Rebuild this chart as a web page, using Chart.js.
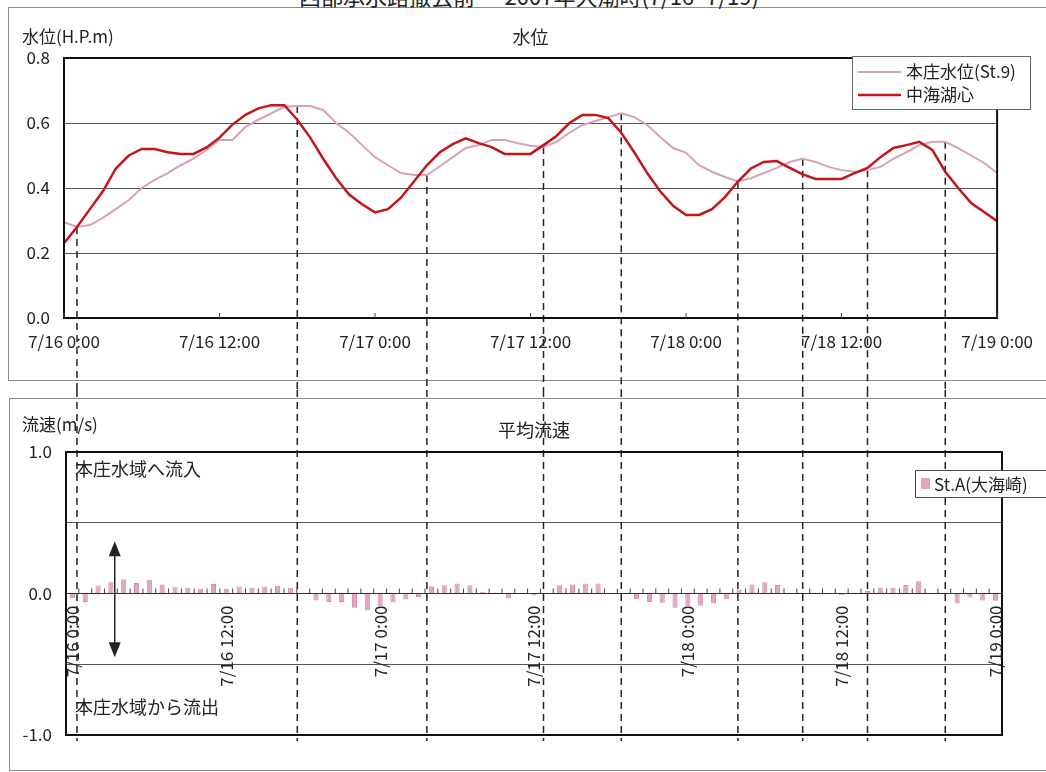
<!DOCTYPE html>
<html>
<head>
<meta charset="utf-8">
<script src="https://cdn.jsdelivr.net/npm/chart.js@4.4.1/dist/chart.umd.min.js"></script>
<style>
  html, body { margin: 0; padding: 0; background: #fff; }
  #page { position: relative; width: 1046px; height: 772px; overflow: hidden; background: #fff; }
  .frame { position: absolute; border: 1px solid #8c8c8c; }
  #f1 { left: 8px; top: 7px; width: 1060px; height: 372px; }
  #f2 { left: 9px; top: 398px; width: 1060px; height: 371px; }
  #head { position: absolute; left: 6px; width: 1046px; top: -21px; text-align: center;
          font: 22px "Noto Sans CJK JP", sans-serif; color: #222; white-space: nowrap; }
  canvas { position: absolute; left: 0; }
  #c1 { top: 0; }
  #c2 { top: 390px; }
</style>
</head>
<body>
<div id="page">
  <div class="frame" id="f1"></div>
  <div class="frame" id="f2"></div>
  <div id="head">西部承水路撤去前 — 2007年大潮時(7/16~7/19)</div>
  <canvas id="c1" width="1046" height="390"></canvas>
  <canvas id="c2" width="1046" height="382"></canvas>
</div>
<script>
// hours from 7/16 0:00
const hours = [0,1,2,3,4,5,6,7,8,9,10,11,12,13,14,15,16,17,18,19,20,21,22,23,24,
  25,26,27,28,29,30,31,32,33,34,35,36,37,38,39,40,41,42,43,44,45,46,47,48,
  49,50,51,52,53,54,55,56,57,58,59,60,61,62,63,64,65,66,67,68,69,70,71,72]
const timeLabels = ['7/16 0:00', '7/16 12:00', '7/17 0:00', '7/17 12:00', '7/18 0:00', '7/18 12:00', '7/19 0:00']

// 本庄水位(St.9)  H.P.m
const honjoLevel = [0.295,0.28,0.286,0.308,0.335,0.363,0.40,0.425,0.446,0.47,0.49,0.517,0.548,
  0.548,0.588,0.61,0.63,0.65,0.652,0.652,0.64,0.60,0.57,0.532,0.495,
  0.47,0.446,0.44,0.44,0.467,0.495,0.523,0.532,0.548,0.548,0.538,0.53,
  0.526,0.542,0.57,0.594,0.606,0.618,0.63,0.618,0.594,0.557,0.523,0.508,
  0.47,0.45,0.434,0.42,0.43,0.446,0.462,0.48,0.49,0.48,0.465,0.455,
  0.45,0.455,0.465,0.49,0.51,0.532,0.542,0.542,0.523,0.50,0.477,0.446]

// 中海湖心  H.P.m
const nakaumiLevel = [0.23,0.28,0.335,0.39,0.46,0.50,0.52,0.52,0.51,0.505,0.505,0.525,0.555,
  0.595,0.625,0.645,0.655,0.655,0.61,0.555,0.49,0.43,0.38,0.35,0.325,
  0.335,0.37,0.42,0.47,0.51,0.535,0.553,0.538,0.526,0.505,0.505,0.505,
  0.532,0.56,0.60,0.625,0.625,0.615,0.57,0.51,0.446,0.39,0.345,0.317,
  0.317,0.335,0.372,0.42,0.46,0.48,0.483,0.462,0.442,0.428,0.428,0.428,
  0.446,0.462,0.495,0.523,0.532,0.542,0.517,0.45,0.40,0.354,0.326,0.298]

// 平均流速 St.A(大海崎)  m/s
const velocityA = [-0.033,-0.06,0.057,0.08,0.10,0.075,0.097,0.064,0.045,0.04,0.033,0.068,0.033,
  0.05,0.04,0.05,0.054,0.04,0.005,-0.05,-0.06,-0.06,-0.1,-0.12,-0.09,
  -0.064,-0.042,-0.024,0.052,0.059,0.07,0.059,0.012,0.007,-0.035,0.003,-0.014,
  0.003,0.059,0.064,0.07,0.07,0.004,0.004,-0.04,-0.06,-0.066,-0.1,-0.094,
  -0.087,-0.07,-0.04,0.028,0.064,0.08,0.06,0.005,0.004,-0.005,-0.005,-0.01,
  0.007,0.02,0.04,0.04,0.06,0.087,0.004,0.004,-0.07,-0.028,-0.05,-0.052]

// 本庄水位の満潮・干潮時刻 (hours)
const markHours = [1, 18, 28, 37, 43, 52, 57, 62, 68]

const FONT = '"Noto Sans CJK JP", sans-serif'
Chart.defaults.font.family = FONT
Chart.defaults.color = '#222'

function dashed(ctx) {
  ctx.strokeStyle = '#222'
  ctx.lineWidth = 1.5
  ctx.setLineDash([7, 5])
}

function frame(ctx, a) {
  ctx.save()
  ctx.strokeStyle = '#111'
  ctx.lineWidth = 2
  ctx.setLineDash([])
  ctx.strokeRect(a.left, a.top, a.right - a.left, a.bottom - a.top)
  ctx.restore()
}

const topDecor = {
  id: 'topDecor',
  beforeDatasetsDraw(chart) {
    const { ctx, scales: { x, y } } = chart
    ctx.save()
    dashed(ctx)
    markHours.forEach(h => {
      const px = x.getPixelForValue(h)
      ctx.beginPath()
      ctx.moveTo(px, y.getPixelForValue(honjoLevel[hours.indexOf(h)]))
      ctx.lineTo(px, chart.height)
      ctx.stroke()
    })
    ctx.restore()
  },
  afterDraw(chart) {
    const { ctx, chartArea: a, scales: { x } } = chart
    frame(ctx, a)
    ctx.save()
    // small inner ticks
    ctx.strokeStyle = '#444'
    ctx.lineWidth = 1
    x.ticks.forEach(t => {
      const px = x.getPixelForValue(t.value)
      ctx.beginPath(); ctx.moveTo(px, a.bottom); ctx.lineTo(px, a.bottom - 5); ctx.stroke()
    })
    ctx.fillStyle = '#222'
    ctx.textBaseline = 'middle'
    ctx.font = '18px ' + FONT
    ctx.textAlign = 'center'
    ctx.fillText('水位', (a.left + a.right) / 2, 37)
    ctx.font = '17px ' + FONT
    ctx.textAlign = 'left'
    ctx.fillText('水位(H.P.m)', 22, 37)

    // legend
    const lx = 852, ly = 56, lw = 178, lh = 53
    ctx.fillStyle = '#fff'
    ctx.fillRect(lx, ly, lw, lh)
    ctx.strokeStyle = '#666'
    ctx.strokeRect(lx + 0.5, ly + 0.5, lw, lh)
    ctx.font = '17px ' + FONT
    chart.data.datasets.forEach((ds, i) => {
      const ry = ly + 16 + i * 23
      ctx.strokeStyle = ds.borderColor
      ctx.lineWidth = ds.borderWidth
      ctx.beginPath(); ctx.moveTo(lx + 6, ry); ctx.lineTo(lx + 49, ry); ctx.stroke()
      ctx.fillStyle = '#222'
      ctx.fillText(ds.label, lx + 54, ry)
    })
    ctx.restore()
  }
}

const topChart = new Chart(document.getElementById('c1'), {
  type: 'line',
  data: {
    datasets: [
      {
        label: '本庄水位(St.9)',
        data: hours.map((h, i) => ({ x: h, y: honjoLevel[i] })),
        borderColor: '#d6a2b8',
        borderWidth: 2,
        pointRadius: 0,
        tension: 0,
        order: 2
      },
      {
        label: '中海湖心',
        data: hours.map((h, i) => ({ x: h, y: nakaumiLevel[i] })),
        borderColor: '#c3161b',
        borderWidth: 2.5,
        pointRadius: 0,
        tension: 0,
        order: 1
      }
    ]
  },
  options: {
    responsive: false,
    animation: false,
    layout: { padding: { top: 58, right: 43, bottom: 32, left: 0 } },
    plugins: { legend: { display: false }, tooltip: { enabled: false } },
    scales: {
      x: {
        type: 'linear', min: 0, max: 72,
        ticks: { stepSize: 12, padding: 13, font: { size: 17 }, maxRotation: 0, callback: v => timeLabels[v / 12] },
        grid: { display: false, drawTicks: false },
        border: { display: false },
        afterFit: s => { s.height = 40 }
      },
      y: {
        min: 0, max: 0.8,
        ticks: { stepSize: 0.2, padding: 14, font: { size: 17 }, callback: v => v.toFixed(1) },
        grid: { color: '#555', drawTicks: false },
        border: { display: false },
        afterFit: s => { s.width = 64 }
      }
    }
  },
  plugins: [topDecor]
})

function arrowHead(ctx, x, y, dir) {
  ctx.beginPath()
  ctx.moveTo(x, y)
  ctx.lineTo(x - 6, y + dir * 15)
  ctx.lineTo(x + 6, y + dir * 15)
  ctx.closePath()
  ctx.fill()
}

const bottomDecor = {
  id: 'bottomDecor',
  beforeDatasetsDraw(chart) {
    const { ctx, chartArea: a, scales: { x, y } } = chart
    ctx.save()
    dashed(ctx)
    markHours.forEach(h => {
      const px = topChart.scales.x.getPixelForValue(h)
      ctx.beginPath(); ctx.moveTo(px, 0); ctx.lineTo(px, a.bottom + 6); ctx.stroke()
    })
    // hourly tick marks on the zero line
    ctx.setLineDash([])
    ctx.strokeStyle = '#444'
    ctx.lineWidth = 1
    const half = (x.getPixelForValue(1) - x.getPixelForValue(0)) / 2
    const zy = y.getPixelForValue(0)
    hours.forEach((h, i) => {
      const px = x.getPixelForValue(i) - half
      ctx.beginPath(); ctx.moveTo(px, zy); ctx.lineTo(px, zy - 5); ctx.stroke()
    })
    ctx.restore()
  },
  afterDraw(chart) {
    const { ctx, chartArea: a, scales: { x, y } } = chart
    frame(ctx, a)
    ctx.save()
    ctx.fillStyle = '#222'
    ctx.textBaseline = 'middle'
    ctx.font = '18px ' + FONT
    ctx.textAlign = 'center'
    ctx.fillText('平均流速', (a.left + a.right) / 2, 40)
    ctx.font = '17px ' + FONT
    ctx.textAlign = 'left'
    ctx.fillText('流速(m/s)', 22, 35)

    ctx.font = '18px ' + FONT
    ctx.fillText('本庄水域へ流入', a.left + 9, y.getPixelForValue(0.88))
    ctx.fillText('本庄水域から流出', a.left + 9, y.getPixelForValue(-0.8))

    // double arrow
    const ax = x.getPixelForValue(3.3)
    const top = y.getPixelForValue(0.37), bot = y.getPixelForValue(-0.45)
    ctx.strokeStyle = '#222'
    ctx.lineWidth = 1.5
    ctx.beginPath(); ctx.moveTo(ax, top + 8); ctx.lineTo(ax, bot - 8); ctx.stroke()
    arrowHead(ctx, ax, top, 1)
    arrowHead(ctx, ax, bot, -1)
    ctx.restore()

    // legend, right edge runs off the page
    const ds = chart.data.datasets[0]
    const lx = 915, ly = 80, lw = 140, lh = 27
    ctx.save()
    ctx.setLineDash([])
    ctx.fillStyle = '#ffffff'
    ctx.fillRect(lx, ly, lw, lh)
    ctx.strokeStyle = '#4a4a4a'
    ctx.lineWidth = 1
    ctx.beginPath()
    ctx.rect(lx + 0.5, ly + 0.5, lw, lh)
    ctx.stroke()
    ctx.fillStyle = ds.backgroundColor
    ctx.fillRect(lx + 6, ly + 8, 9, 11)
    ctx.fillStyle = '#222'
    ctx.textAlign = 'left'
    ctx.textBaseline = 'middle'
    ctx.font = '17px ' + FONT
    ctx.fillText(ds.label, lx + 19, ly + lh / 2 + 1)
    ctx.restore()
  }
}

const bottomChart = new Chart(document.getElementById('c2'), {
  type: 'bar',
  data: {
    labels: hours,
    datasets: [{
      label: 'St.A(大海崎)',
      data: velocityA,
      backgroundColor: '#e4a3c1',
      borderColor: '#d38aad',
      borderWidth: 1,
      barPercentage: 0.4,
      categoryPercentage: 1
    }]
  },
  options: {
    responsive: false,
    animation: false,
    layout: { padding: { top: 62, right: 44, bottom: 37, left: 0 } },
    plugins: { legend: { display: false }, tooltip: { enabled: false } },
    scales: {
      x: {
        position: { y: 0 },
        offset: true,
        grid: { display: false, drawTicks: false },
        border: { display: true, color: '#333', width: 1 },
        ticks: {
          autoSkip: false, maxRotation: 90, minRotation: 90, padding: 12,
          font: { size: 17 },
          callback: (v, i) => (i % 12 === 0 ? timeLabels[i / 12] : '')
        }
      },
      y: {
        min: -1, max: 1,
        ticks: { stepSize: 0.5, padding: 14, font: { size: 17 }, callback: v => (Number.isInteger(v) ? v.toFixed(1) : '') },
        grid: { color: '#555', drawTicks: false },
        border: { display: false },
        afterFit: s => { s.width = 66 }
      }
    }
  },
  plugins: [bottomDecor]
})
</script>
</body>
</html>
